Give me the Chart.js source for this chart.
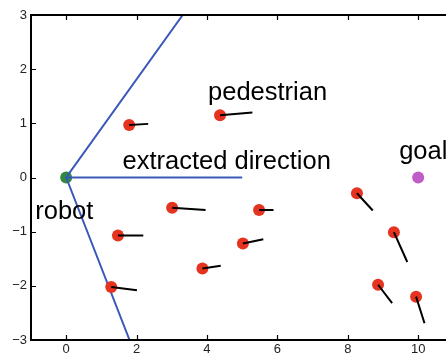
<!DOCTYPE html>
<html>
<head>
<meta charset="utf-8">
<script src="https://cdn.jsdelivr.net/npm/chart.js@4/dist/chart.umd.min.js"></script>
<style>
  html, body { margin: 0; padding: 0; background: #fff; }
  #wrap { width: 446px; height: 354px; }
</style>
</head>
<body>
<div id="wrap"><canvas id="c" width="446" height="354"></canvas></div>
<script>
// Pedestrian positions and heading end points
const pedX  = [1.79, 4.37, 3.01, 5.48, 1.47, 5.02, 3.87, 1.28, 8.26, 9.31, 8.86, 9.94];
const pedY  = [0.97, 1.15, -0.56, -0.60, -1.07, -1.22, -1.68, -2.02, -0.29, -1.01, -1.98, -2.20];
const headX = [2.33, 5.29, 3.96, 5.89, 2.19, 5.60, 4.39, 2.01, 8.71, 9.69, 9.26, 10.18];
const headY = [0.99, 1.20, -0.60, -0.60, -1.07, -1.14, -1.63, -2.08, -0.61, -1.56, -2.32, -2.69];

// Robot and goal
const robotXY = [0, 0];
const goalXY  = [10, 0];

// Field-of-view rays from the robot and the extracted direction
const rayX = [3.31, 0, 1.80];
const rayY = [3, 0, -3];
const dirX = [0, 5];
const dirY = [0, 0];

// Axis ticks
const xTicks = [0, 2, 4, 6, 8, 10];
const yTicks = [-3, -2, -1, 0, 1, 2, 3];

// Text labels (anchored in data units)
const labelText = ['pedestrian', 'extracted direction', 'goal', 'robot'];
const labelX = [4.03, 1.60, 9.46, -0.88];
const labelY = [1.43, 0.157, 0.34, -0.77];

const FONT = "'Liberation Sans', Arial, Helvetica, sans-serif";

// heading segments separated by gaps
const headSegs = [];
pedX.forEach((x, i) => {
  headSegs.push({ x: x, y: pedY[i] });
  headSegs.push({ x: headX[i], y: headY[i] });
  headSegs.push({ x: x, y: null });
});

const overlay = {
  id: 'overlay',
  afterDraw(chart) {
    const { ctx, chartArea: a, scales: { x, y } } = chart;
    const W = chart.width;
    ctx.save();
    // frame
    ctx.strokeStyle = '#000';
    ctx.lineWidth = 2;
    ctx.beginPath();
    ctx.moveTo(W, a.top);
    ctx.lineTo(a.left, a.top);
    ctx.lineTo(a.left, a.bottom);
    ctx.lineTo(W, a.bottom);
    ctx.stroke();
    // inward tick marks
    ctx.lineWidth = 1.2;
    ctx.beginPath();
    xTicks.forEach(v => {
      const px = Math.round(x.getPixelForValue(v)) + 0.5;
      ctx.moveTo(px, a.bottom); ctx.lineTo(px, a.bottom - 5);
      ctx.moveTo(px, a.top); ctx.lineTo(px, a.top + 5);
    });
    yTicks.forEach(v => {
      const py = Math.round(y.getPixelForValue(v)) + 0.5;
      ctx.moveTo(a.left, py); ctx.lineTo(a.left + 5, py);
    });
    ctx.stroke();
    // labels
    ctx.fillStyle = '#000';
    ctx.font = '25.5px ' + FONT;
    ctx.textAlign = 'left';
    ctx.textBaseline = 'alphabetic';
    labelText.forEach((t, i) => {
      ctx.fillText(t, x.getPixelForValue(labelX[i]), y.getPixelForValue(labelY[i]));
    });
    ctx.restore();
  }
};

new Chart(document.getElementById('c'), {
  type: 'scatter',
  data: {
    datasets: [
      {
        type: 'line',
        data: headSegs,
        borderColor: '#000',
        borderWidth: 2,
        pointRadius: 0,
        spanGaps: false,
        fill: false
      },
      {
        data: pedX.map((x, i) => ({ x: x, y: pedY[i] })),
        backgroundColor: '#e5331f',
        borderWidth: 0,
        pointRadius: 6
      },
      {
        type: 'line',
        data: rayX.map((x, i) => ({ x: x, y: rayY[i] })),
        borderColor: '#3a58b8',
        borderWidth: 2,
        pointRadius: 0,
        fill: false
      },
      {
        type: 'line',
        data: dirX.map((x, i) => ({ x: x, y: dirY[i] })),
        borderColor: '#3a58b8',
        borderWidth: 2,
        pointRadius: 0,
        fill: false
      },
      {
        data: [{ x: robotXY[0], y: robotXY[1] }],
        backgroundColor: '#2f8a3c',
        borderWidth: 0,
        pointRadius: 6
      },
      {
        data: [{ x: goalXY[0], y: goalXY[1] }],
        backgroundColor: '#bf5cc6',
        borderWidth: 0,
        pointRadius: 6
      }
    ]
  },
  options: {
    responsive: false,
    animation: false,
    devicePixelRatio: 1,
    layout: { padding: { top: 15, right: 0, bottom: 0, left: 0 } },
    plugins: { legend: { display: false }, tooltip: { enabled: false } },
    scales: {
      x: {
        type: 'linear',
        min: -1,
        max: 10.62,
        afterBuildTicks: s => { s.ticks = xTicks.map(v => ({ value: v })); },
        afterFit: s => { s.height = 14; s.paddingLeft = 0; s.paddingRight = 0; },
        grid: { display: false, drawTicks: false },
        border: { display: false },
        ticks: { color: '#222', padding: 2, font: { family: FONT, size: 13 }, maxRotation: 0 }
      },
      y: {
        type: 'linear',
        min: -3,
        max: 3,
        afterBuildTicks: s => { s.ticks = yTicks.map(v => ({ value: v })); },
        afterFit: s => { s.width = 31; s.paddingTop = 0; s.paddingBottom = 0; },
        grid: { display: false, drawTicks: false },
        border: { display: false },
        ticks: {
          color: '#222',
          padding: 4,
          font: { family: FONT, size: 13 },
          callback: v => String(v).replace('-', '\u2212')
        }
      }
    }
  },
  plugins: [overlay]
});
</script>
</body>
</html>
